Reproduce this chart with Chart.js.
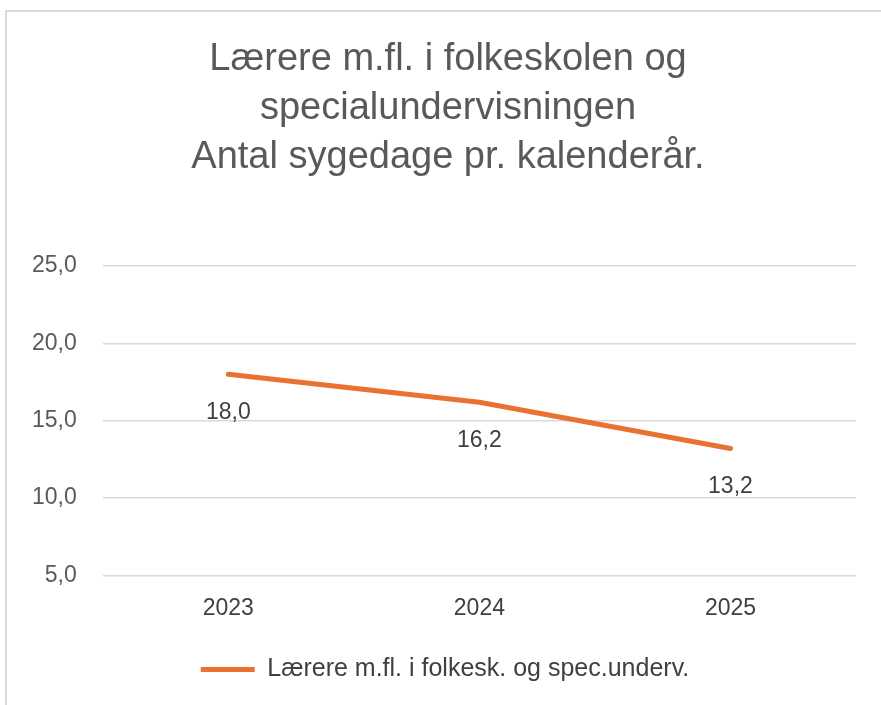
<!DOCTYPE html>
<html>
<head>
<meta charset="utf-8">
<script src="https://cdn.jsdelivr.net/npm/chart.js@4"></script>
<style>
  html, body { margin: 0; padding: 0; background: #fff; }
  #wrap { position: absolute; left: 5px; top: 10px; width: 876px; height: 695px; border-left: 2px solid #d9d9d9; border-top: 2px solid #d9d9d9; box-sizing: border-box; }
  #box { position: absolute; left: 0; top: 0; width: 881px; height: 705px; }
</style>
</head>
<body>
<div id="wrap"></div>
<div id="box"><canvas id="c" width="881" height="705"></canvas></div>
<script>
const categories = ['2023', '2024', '2025'];
const values = [18.0, 16.2, 13.2];
const seriesName = 'Lærere m.fl. i folkesk. og spec.underv.';
const titleLines = ['Lærere m.fl. i folkeskolen og', 'specialundervisningen', 'Antal sygedage pr. kalenderår.'];
const yTicks = [5, 10, 15, 20, 25];

const fmt = v => v.toFixed(1).replace('.', ',');
const FONT = '"Liberation Sans", Arial, sans-serif';

const labelPlugin = {
  id: 'valueLabels',
  afterLayout(chart) {
    // centre title and legend over the whole frame, as in the original
    const shiftT = 17, shiftL = 14;
    if (chart.titleBlock) { chart.titleBlock.left += shiftT; chart.titleBlock.right += shiftT; }
    if (chart.legend) { chart.legend.left += shiftL; chart.legend.right += shiftL; }
  },
  afterDatasetsDraw(chart) {
    const ctx = chart.ctx;
    const meta = chart.getDatasetMeta(0);
    ctx.save();
    ctx.font = '23px ' + FONT;
    ctx.fillStyle = '#404040';
    ctx.textAlign = 'center';
    ctx.textBaseline = 'middle';
    meta.data.forEach((pt, i) => {
      ctx.fillText(fmt(values[i]), pt.x, pt.y + 38);
    });
    ctx.restore();
  }
};

Chart.defaults.font.family = FONT;
Chart.defaults.color = '#595959';

new Chart(document.getElementById('c'), {
  type: 'line',
  data: {
    labels: categories,
    datasets: [{
      label: seriesName,
      data: values,
      borderColor: '#E97132',
      backgroundColor: '#E97132',
      borderWidth: 5,
      borderCapStyle: 'round',
      borderJoinStyle: 'round',
      pointRadius: 0,
      pointHoverRadius: 0,
      tension: 0
    }]
  },
  options: {
    responsive: false,
    animation: false,
    devicePixelRatio: 1,
    layout: { padding: { left: 6, right: 25, top: 35, bottom: 13 } },
    plugins: {
      title: {
        display: true,
        text: titleLines,
        color: '#595959',
        font: { size: 38, weight: 'normal', family: FONT, lineHeight: 1.29 },
        padding: { top: 0, bottom: 84 }
      },
      legend: {
        position: 'bottom',
        labels: {
          usePointStyle: true,
          pointStyle: 'line',
          pointStyleWidth: 54,
          boxWidth: 54,
          color: '#404040',
          font: { size: 25 },
          padding: 12
        }
      },
      tooltip: { enabled: false }
    },
    scales: {
      x: {
        offset: true,
        grid: { display: false, drawTicks: false },
        border: { display: false },
        ticks: { color: '#404040', font: { size: 23 }, padding: 19 },
        afterFit(axis) { axis.height += 4; }
      },
      y: {
        min: 5,
        max: 25,
        afterBuildTicks(axis) { axis.ticks = yTicks.map(v => ({ value: v })); },
        grid: { color: '#d9d9d9', lineWidth: 1.5, drawTicks: false },
        border: { display: false },
        ticks: { color: '#595959', font: { size: 23 }, padding: 26, callback: v => fmt(v) }
      }
    }
  },
  plugins: [labelPlugin]
});
</script>
</body>
</html>
